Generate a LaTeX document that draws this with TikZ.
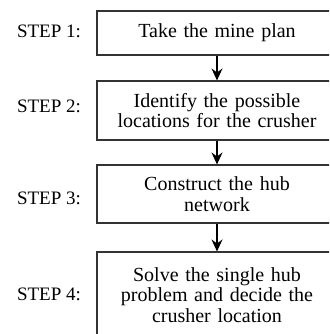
\documentclass[tikz,border=0pt]{standalone}
\usepackage{fontspec}
\setmainfont{Liberation Serif}
\usetikzlibrary{arrows.meta,positioning}

\begin{document}
\begin{tikzpicture}[x=1pt,y=-1pt,
  stepbox/.style={draw=black!80,line width=1.1pt,minimum width=240pt,text width=232pt,
    align=center,inner sep=0pt,font=\fontsize{20}{20.5}\selectfont},
  steplabel/.style={anchor=base,font=\fontsize{19}{20}\selectfont}]
\useasboundingbox (0,0) rectangle (329,334);
\clip (0,0) rectangle (329,334);
% the four steps
\node[stepbox,minimum height=44pt] (s1) at (217,33) {Take the mine plan};
\node[stepbox,minimum height=59pt] (s2) at (217,110.5) {Identify the possible\\locations for the crusher};
\node[stepbox,minimum height=58pt] (s3) at (217,194) {Construct the hub\\network};
\node[stepbox,minimum height=86pt] (s4) at (217,295) {Solve the single hub\\problem and decide the\\crusher location};
\foreach \n/\y in {1/38,2/112,3/204,4/300}
  \node[steplabel] (l\n) at (49,\y) {STEP \n:};
\foreach \a/\b in {s1/s2,s2/s3,s3/s4}
  \draw[line width=1.1pt,-{Stealth[length=12pt,width=11pt,inset=4pt]}] (\a) -- (\b);
\end{tikzpicture}
\end{document}
